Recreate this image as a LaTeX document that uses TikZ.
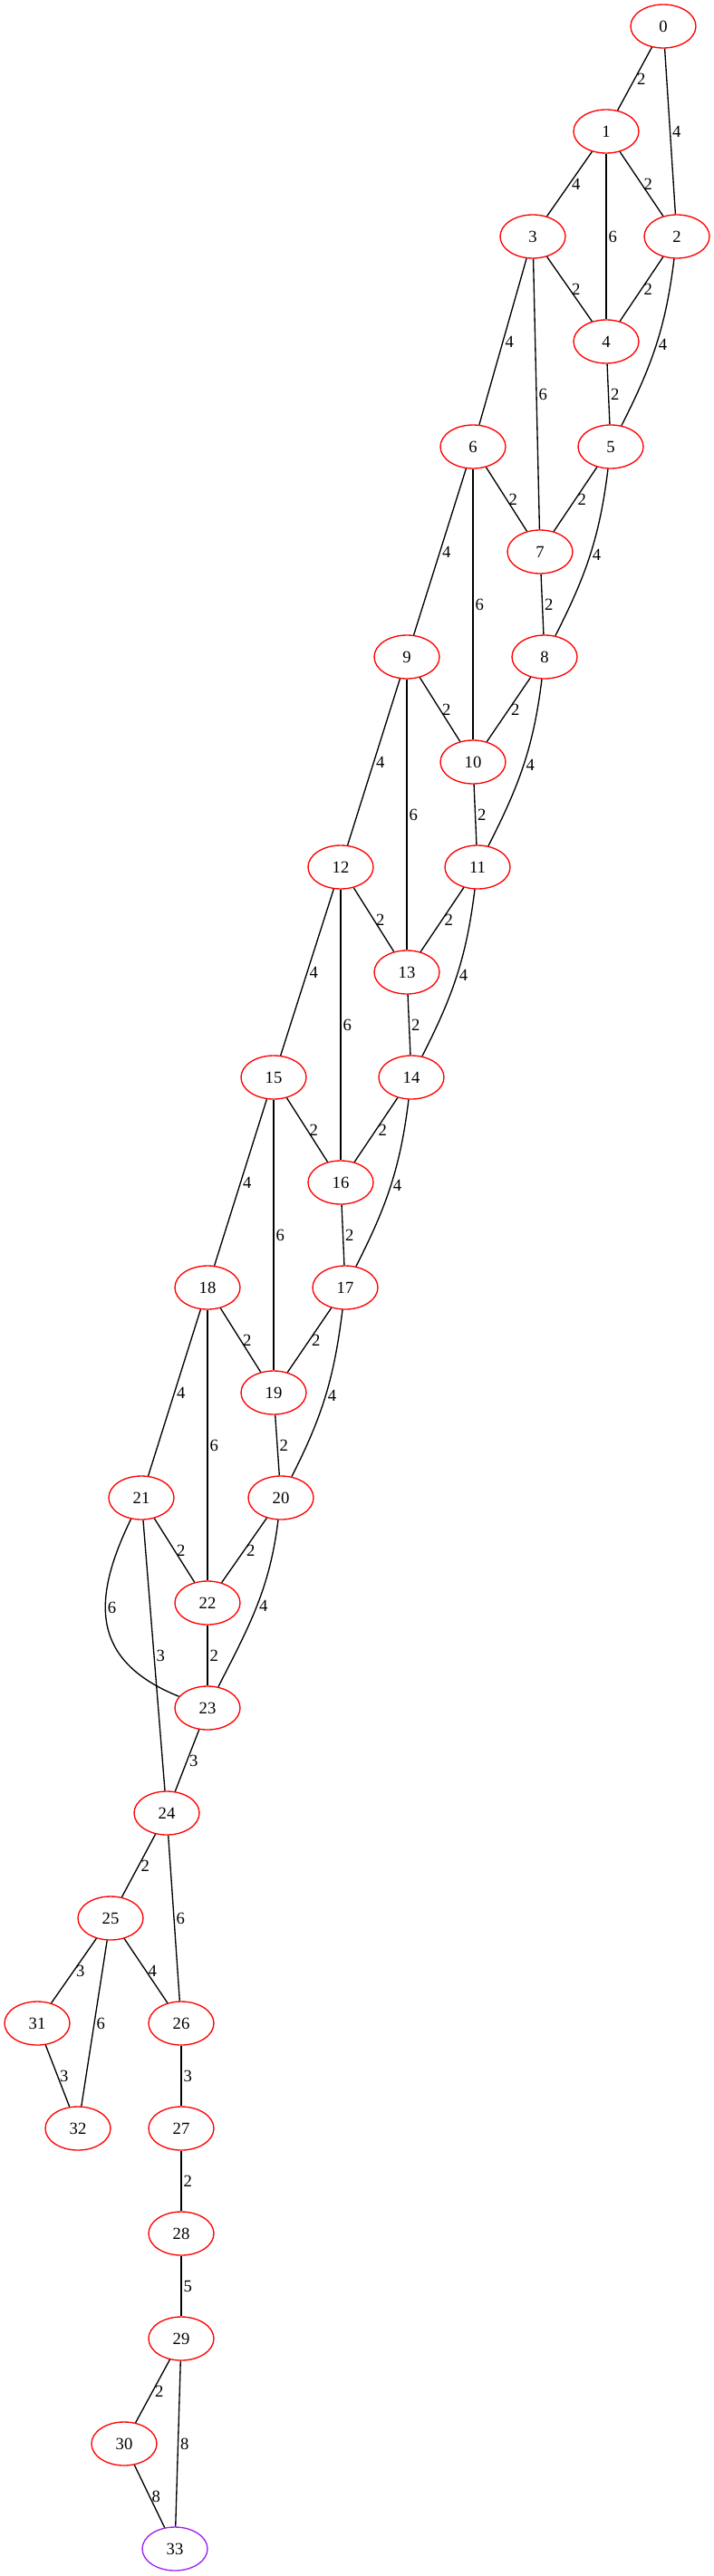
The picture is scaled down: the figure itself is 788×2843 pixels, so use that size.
\documentclass[tikz,border=0pt]{standalone}
\usepackage{fontspec}
\setmainfont{Liberation Serif}
\usepackage{tikz}
\usetikzlibrary{shapes}
\definecolor{sinkpurple}{HTML}{A020F0}

\begin{document}
\begin{tikzpicture}[
    x=0.75pt, y=-0.75pt,   % one unit per pixel, rows run downwards
    ]
% -------------------------------------------------
\tikzset{
  base/.style={draw, ellipse, line width=1pt, minimum width=54pt, minimum height=36pt, inner sep=0pt, font=\fontsize{14}{16}\selectfont},
  vert/.style={base, draw=red},
  sink/.style={base, draw=sinkpurple},
  wlabel/.style={right, inner sep=1.5pt, font=\fontsize{14}{16}\selectfont},
  line/.style={draw, line width=1pt},
  rbow/.style={line, out=-97, in=63},
  lbow/.style={line, out=-116, in=158, looseness=1.3}
}
% -------------------------------------------------
\path [use as bounding box, fill=white] (0,0) rectangle (788,2843);

% Placing the nodes
\node [vert] (n0) at (732,29) {0};
\node [vert] (n1) at (669,145) {1};
\node [vert] (n3) at (588,261) {3};
\node [vert] (n2) at (747,261) {2};
\node [vert] (n4) at (669,377) {4};
\node [vert] (n6) at (522,493) {6};
\node [vert] (n5) at (674,493) {5};
\node [vert] (n7) at (596,609) {7};
\node [vert] (n9) at (449,725) {9};
\node [vert] (n8) at (601,725) {8};
\node [vert] (n10) at (522,841) {10};
\node [vert] (n12) at (376,957) {12};
\node [vert] (n11) at (527,957) {11};
\node [vert] (n13) at (449,1073) {13};
\node [vert] (n15) at (302,1189) {15};
\node [vert] (n14) at (454,1189) {14};
\node [vert] (n16) at (376,1305) {16};
\node [vert] (n18) at (229,1421) {18};
\node [vert] (n17) at (381,1421) {17};
\node [vert] (n19) at (302,1537) {19};
\node [vert] (n21) at (156,1653) {21};
\node [vert] (n20) at (310,1653) {20};
\node [vert] (n22) at (229,1769) {22};
\node [vert] (n23) at (229,1885) {23};
\node [vert] (n24) at (184,2001) {24};
\node [vert] (n25) at (122,2117) {25};
\node [vert] (n31) at (41,2233) {31};
\node [vert] (n26) at (200,2233) {26};
\node [vert] (n32) at (86,2349) {32};
\node [vert] (n27) at (200,2349) {27};
\node [vert] (n28) at (200,2465) {28};
\node [vert] (n29) at (200,2581) {29};
\node [vert] (n30) at (137,2697) {30};
\node [sink] (n33) at (193,2813) {33};

% Edges with their weights
\path [line] (n0) -- node[wlabel] {2} (n1);
\path [line] (n0) -- node[wlabel] {4} (n2);
\path [line] (n1) -- node[wlabel] {4} (n3);
\path [line] (n1) -- node[wlabel] {6} (n4);
\path [line] (n1) -- node[wlabel] {2} (n2);
\path [line] (n3) -- node[wlabel] {2} (n4);
\path [line] (n2) -- node[wlabel] {2} (n4);
\path [line] (n3) -- node[wlabel] {4} (n6);
\path [line] (n3) -- node[wlabel] {6} (n7);
\path [rbow] (n2) to node[wlabel] {4} (n5);
\path [line] (n4) -- node[wlabel] {2} (n5);
\path [line] (n6) -- node[wlabel] {2} (n7);
\path [line] (n5) -- node[wlabel] {2} (n7);
\path [line] (n6) -- node[wlabel] {4} (n9);
\path [line] (n6) -- node[wlabel] {6} (n10);
\path [line] (n7) -- node[wlabel] {2} (n8);
\path [rbow] (n5) to node[wlabel] {4} (n8);
\path [line] (n9) -- node[wlabel] {2} (n10);
\path [line] (n8) -- node[wlabel] {2} (n10);
\path [line] (n9) -- node[wlabel] {4} (n12);
\path [line] (n9) -- node[wlabel] {6} (n13);
\path [line] (n10) -- node[wlabel] {2} (n11);
\path [rbow] (n8) to node[wlabel] {4} (n11);
\path [line] (n12) -- node[wlabel] {2} (n13);
\path [line] (n11) -- node[wlabel] {2} (n13);
\path [line] (n12) -- node[wlabel] {4} (n15);
\path [line] (n12) -- node[wlabel] {6} (n16);
\path [line] (n13) -- node[wlabel] {2} (n14);
\path [rbow] (n11) to node[wlabel] {4} (n14);
\path [line] (n15) -- node[wlabel] {2} (n16);
\path [line] (n14) -- node[wlabel] {2} (n16);
\path [line] (n15) -- node[wlabel] {4} (n18);
\path [line] (n15) -- node[wlabel] {6} (n19);
\path [line] (n16) -- node[wlabel] {2} (n17);
\path [rbow] (n14) to node[wlabel] {4} (n17);
\path [line] (n18) -- node[wlabel] {2} (n19);
\path [line] (n17) -- node[wlabel] {2} (n19);
\path [line] (n18) -- node[wlabel] {4} (n21);
\path [line] (n18) -- node[wlabel] {6} (n22);
\path [line] (n19) -- node[wlabel] {2} (n20);
\path [rbow] (n17) to node[wlabel] {4} (n20);
\path [line] (n21) -- node[wlabel] {2} (n22);
\path [line] (n20) -- node[wlabel] {2} (n22);
\path [lbow] (n21) to node[wlabel, pos=0.4] {6} (n23);
\path [line] (n21) -- node[wlabel] {3} (n24);
\path [line] (n22) -- node[wlabel] {2} (n23);
\path [rbow] (n20) to node[wlabel] {4} (n23);
\path [line] (n23) -- node[wlabel] {3} (n24);
\path [line] (n24) -- node[wlabel] {2} (n25);
\path [line] (n24) -- node[wlabel] {6} (n26);
\path [line] (n25) -- node[wlabel] {3} (n31);
\path [line] (n25) -- node[wlabel] {4} (n26);
\path [line] (n25) -- node[wlabel] {6} (n32);
\path [line] (n31) -- node[wlabel] {3} (n32);
\path [line] (n26) -- node[wlabel] {3} (n27);
\path [line] (n27) -- node[wlabel] {2} (n28);
\path [line] (n28) -- node[wlabel] {5} (n29);
\path [line] (n29) -- node[wlabel] {2} (n30);
\path [line] (n29) -- node[wlabel] {8} (n33);
\path [line] (n30) -- node[wlabel] {8} (n33);

\end{tikzpicture}
\end{document}
